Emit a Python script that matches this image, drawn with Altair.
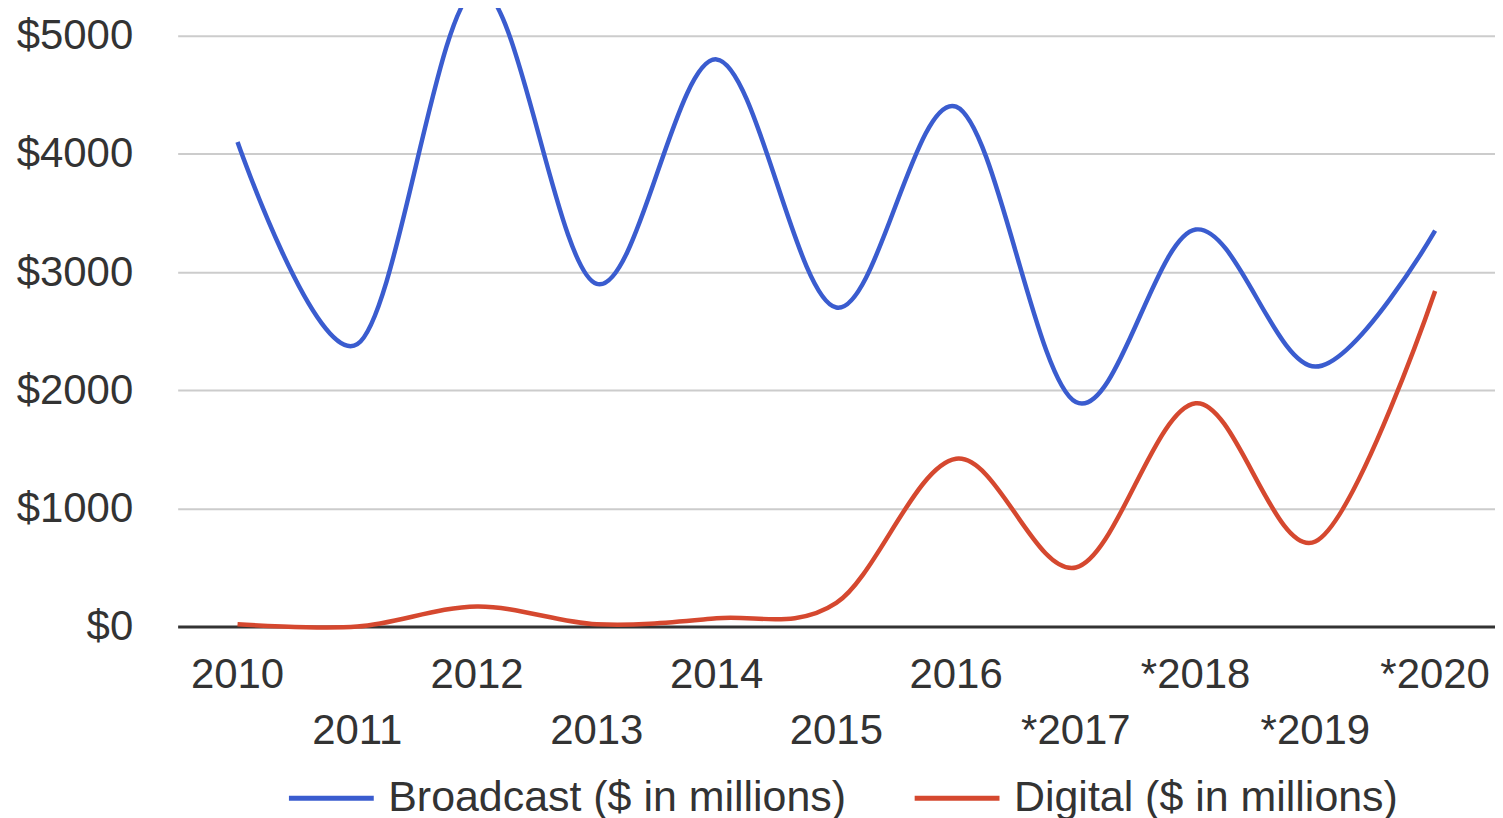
import altair as alt
import pandas as pd

years = ["2010", "2011", "2012", "2013", "2014", "2015", "2016", "*2017", "*2018", "*2019", "*2020"]
broadcast = [4100, 2390, 5400, 2900, 4800, 2700, 4400, 1900, 3360, 2200, 3350]
digital = [20, 0, 170, 20, 70, 200, 1420, 500, 1890, 720, 2840]
series_names = ["Broadcast ($ in millions)", "Digital ($ in millions)"]
series_colors = ["#3a5ccf", "#d5482f"]
y_ticks = [0, 1000, 2000, 3000, 4000, 5000]

rows = []
for i, yr in enumerate(years):
    rows.append({"year": yr, "idx": i, "series": series_names[0], "value": broadcast[i]})
    rows.append({"year": yr, "idx": i, "series": series_names[1], "value": digital[i]})
df = pd.DataFrame(rows)
lab = pd.DataFrame({"year": years, "idx": list(range(len(years)))})

FONT = "Liberation Sans"
x_scale = alt.Scale(domain=years, paddingOuter=0.5)

lines = alt.Chart(df).mark_line(interpolate="cardinal", strokeWidth=4.5).encode(
    x=alt.X("year:O", scale=x_scale, sort=years,
            axis=alt.Axis(title=None, labels=False, ticks=False, grid=False,
                          domain=True, domainColor="#333333", domainWidth=3)),
    y=alt.Y("value:Q", scale=alt.Scale(domain=[0, 5228], nice=False, zero=True),
            axis=alt.Axis(title=None, values=y_ticks, labelExpr="'$' + datum.value",
                          ticks=False, domain=False, grid=True, gridColor="#cccccc",
                          gridWidth=2, labelFontSize=42, labelFont=FONT,
                          labelColor="#333333", labelPadding=45)),
    color=alt.Color("series:N",
                    scale=alt.Scale(domain=series_names, range=series_colors),
                    legend=alt.Legend(title=None, orient="none", direction="horizontal",
                                      legendX=109, legendY=746, symbolType="stroke",
                                      symbolSize=7225, symbolStrokeWidth=5,
                                      labelFontSize=43, labelFont=FONT, labelLimit=800,
                                      labelColor="#333333", labelOffset=12,
                                      columnPadding=58, padding=0)),
)

even_labels = alt.Chart(lab).transform_filter("datum.idx % 2 == 0").mark_text(
    fontSize=42, font=FONT, color="#333333", baseline="middle", align="center"
).encode(x=alt.X("year:O", scale=x_scale, sort=years), y=alt.value(668), text="year:N")

odd_labels = alt.Chart(lab).transform_filter("datum.idx % 2 == 1").mark_text(
    fontSize=42, font=FONT, color="#333333", baseline="middle", align="center"
).encode(x=alt.X("year:O", scale=x_scale, sort=years), y=alt.value(724), text="year:N")

chart = alt.layer(lines, even_labels, odd_labels).properties(
    width=1320, height=619,
    autosize=alt.AutoSizeParams(type="none"),
    padding={"left": 170, "top": 0, "right": 0, "bottom": 195},
).configure_view(stroke=None)

chart.save("out.html", embed_options={"renderer": "svg", "actions": False})
